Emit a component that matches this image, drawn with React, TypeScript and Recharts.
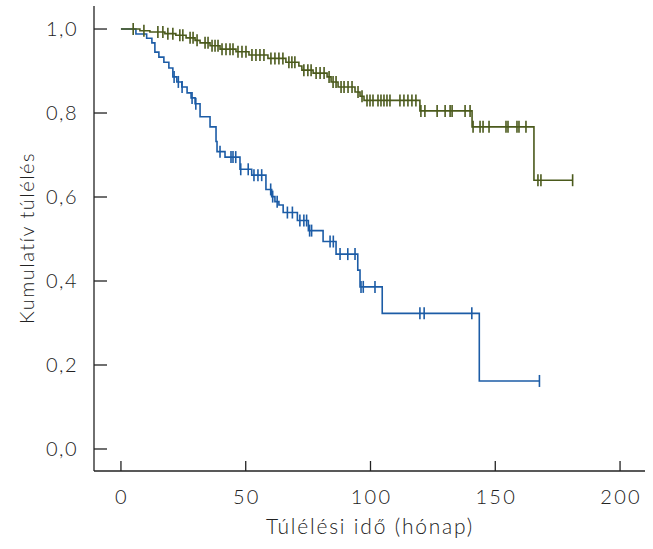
import React from 'react';
import { LineChart, Line, XAxis, YAxis, Label } from 'recharts';

// Kaplan-Meier steps: time of drop (months) and survival after drop
const blueStepT = [6.0, 10.3, 12.4, 13.6, 15.2, 17.2, 19.2, 20.8, 22.4, 24.4, 26.5, 28.1, 29.7, 31.7, 35.7, 38.1, 38.5, 41.7, 47.7, 52.4, 58.1, 60.4, 61.7, 63.3, 65.0, 70.7, 75.1, 81.0, 86.2, 94.9, 95.8, 104.7, 143.6];
const blueStepS = [0.988, 0.978, 0.967, 0.945, 0.933, 0.921, 0.907, 0.886, 0.874, 0.862, 0.848, 0.836, 0.822, 0.791, 0.767, 0.732, 0.708, 0.695, 0.666, 0.652, 0.618, 0.601, 0.589, 0.581, 0.563, 0.544, 0.520, 0.494, 0.464, 0.426, 0.386, 0.323, 0.162];
const blueCensorT = [21.3, 23.0, 24.5, 28.5, 30.0, 39.7, 44.1, 44.9, 46.0, 48.0, 51.0, 53.3, 54.9, 56.4, 60.0, 60.8, 62.6, 66.7, 68.7, 71.7, 73.3, 74.4, 75.6, 76.4, 83.8, 85.1, 87.8, 90.9, 93.8, 96.2, 97.1, 101.8, 119.8, 121.5, 140.6, 167.7];

const greenStepT = [7.6, 11.6, 17.6, 22.0, 26.1, 29.7, 31.7, 35.7, 39.7, 46.1, 51.3, 58.9, 66.1, 71.3, 72.5, 77.0, 82.6, 84.2, 87.0, 93.8, 95.8, 97.4, 119.8, 140.7, 165.5];
const greenStepS = [0.996, 0.993, 0.989, 0.985, 0.979, 0.973, 0.967, 0.960, 0.952, 0.946, 0.938, 0.930, 0.921, 0.912, 0.902, 0.895, 0.886, 0.874, 0.862, 0.850, 0.840, 0.830, 0.805, 0.767, 0.640];
const greenCensorT = [4.9, 9.2, 14.8, 16.8, 18.8, 20.8, 23.6, 24.8, 27.7, 28.9, 30.5, 33.7, 34.9, 36.5, 37.7, 38.9, 40.5, 42.1, 43.7, 44.9, 46.9, 48.5, 50.1, 52.5, 54.1, 55.7, 57.3, 60.1, 61.7, 63.3, 64.9, 67.3, 68.5, 69.7, 73.3, 74.9, 76.2, 78.2, 79.8, 81.4, 83.4, 85.0, 86.2, 88.2, 89.4, 91.0, 92.6, 95.0, 96.6, 98.6, 99.8, 101.0, 103.0, 104.2, 105.4, 106.6, 107.8, 111.8, 113.4, 115.0, 116.6, 118.2, 120.2, 121.8, 126.7, 129.9, 131.9, 132.7, 137.9, 139.9, 141.1, 143.9, 145.1, 147.5, 154.3, 155.1, 158.7, 159.5, 162.3, 167.1, 168.3, 181.0];

const xTicks = [0, 50, 100, 150, 200];
const yTicks = [0, 0.2, 0.4, 0.6, 0.8, 1.0];

const BLUE = '#1c5ca6';
const GREEN = '#4b5a1c';
const INK = '#222';
const FONT = 'Lato, "Open Sans", sans-serif';

type Pt = { t: number; s: number; c: boolean };

function buildKM(stepT: number[], stepS: number[], censorT: number[]): Pt[] {
  const ev: { t: number; s?: number; c: boolean }[] = [
    ...stepT.map((t, i) => ({ t, s: stepS[i], c: false })),
    ...censorT.map((t) => ({ t, c: true })),
  ];
  ev.sort((a, b) => a.t - b.t || (a.c ? 1 : 0) - (b.c ? 1 : 0));
  let s = 1;
  const pts: Pt[] = [{ t: 0, s: 1, c: false }];
  for (const e of ev) {
    if (!e.c) s = e.s as number;
    pts.push({ t: e.t, s, c: e.c });
  }
  return pts;
}

const blueData = buildKM(blueStepT, blueStepS, blueCensorT);
const greenData = buildKM(greenStepT, greenStepS, greenCensorT);

const censorDot = (color: string) => (props: any) => {
  const { cx, cy, payload, index } = props;
  if (!payload || !payload.c) return <g key={`n${index}`} />;
  return (
    <line key={`c${index}`} x1={cx} x2={cx} y1={cy - 6} y2={cy + 6} stroke={color} strokeWidth={1.6} />
  );
};

const fmt = (v: number) => v.toFixed(1).replace('.', ',');

const textStyle = { fontFamily: FONT, fontWeight: 300, fill: INK } as const;

const YTick = (props: any) => {
  const { x, y, payload } = props;
  return (
    <g>
      <line x1={x} x2={x + 13} y1={y} y2={y} stroke={INK} strokeWidth={1.3} />
      <text x={x - 16} y={y + 7} textAnchor="end" fontSize={20} letterSpacing={1.5} {...textStyle}>
        {fmt(payload.value)}
      </text>
    </g>
  );
};

const XTick = (props: any) => {
  const { x, y, payload } = props;
  return (
    <g>
      <line x1={x} x2={x} y1={y} y2={y - 10} stroke={INK} strokeWidth={1.3} />
      <text x={x + 1} y={y + 33} textAnchor="middle" fontSize={20} letterSpacing={2.2} {...textStyle}>
        {payload.value}
      </text>
    </g>
  );
};

export default function App() {
  return (
    <div style={{ position: 'absolute', left: 0, top: 0, width: 653, height: 549, background: '#fff' }}>
      <LineChart width={653} height={549} margin={{ top: 6, right: 8, bottom: 0, left: 0 }}>
        <XAxis
          type="number"
          dataKey="t"
          domain={[-10.8, 210]}
          ticks={xTicks}
          allowDataOverflow
          height={78}
          tickSize={0}
          tickMargin={0}
          tickLine={false}
          axisLine={{ stroke: INK, strokeWidth: 1.3 }}
          tick={<XTick />}
        >
          <Label
            content={() => (
              <text x={370} y={534} textAnchor="middle" fontSize={21} letterSpacing={1.8} {...textStyle}>
                Túlélési idő (hónap)
              </text>
            )}
          />
        </XAxis>
        <YAxis
          type="number"
          dataKey="s"
          domain={[-0.0524, 1.0548]}
          ticks={yTicks}
          allowDataOverflow
          width={94}
          tickSize={0}
          tickMargin={0}
          tickLine={false}
          axisLine={{ stroke: INK, strokeWidth: 1.3 }}
          tick={<YTick />}
        >
          <Label
            content={() => (
              <text
                x={26}
                y={238}
                transform="rotate(-90 26 238)"
                textAnchor="middle"
                dominantBaseline="central"
                fontSize={20}
                letterSpacing={1.5}
                {...textStyle}
              >
                Kumulatív túlélés
              </text>
            )}
          />
        </YAxis>
        <Line
          data={blueData}
          dataKey="s"
          type="stepAfter"
          stroke={BLUE}
          strokeWidth={1.6}
          dot={censorDot(BLUE)}
          activeDot={false}
          isAnimationActive={false}
        />
        <Line
          data={greenData}
          dataKey="s"
          type="stepAfter"
          stroke={GREEN}
          strokeWidth={1.6}
          dot={censorDot(GREEN)}
          activeDot={false}
          isAnimationActive={false}
        />
      </LineChart>
    </div>
  );
}
